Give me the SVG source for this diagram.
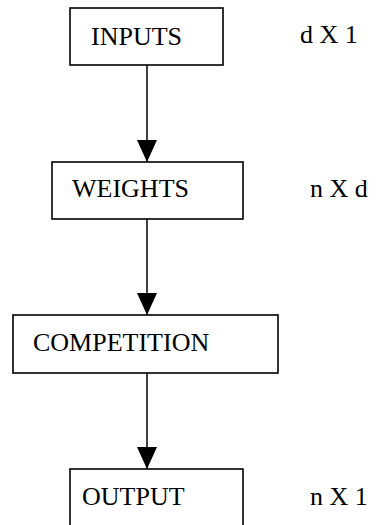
<svg xmlns="http://www.w3.org/2000/svg" width="381" height="525" viewBox="0 0 381 525">
  <style>
    .box { fill: #ffffff; stroke: #000000; stroke-width: 1.6; }
    .label { font-family: "Liberation Serif", "Times New Roman", serif; font-size: 26px; fill: #000000; }
    .conn { stroke: #000000; stroke-width: 1.5; fill: none; marker-end: url(#arrow); }
  </style>
  <defs>
    <marker id="arrow" viewBox="0 0 22 20" refX="22" refY="10" markerWidth="22" markerHeight="20" markerUnits="userSpaceOnUse" orient="auto">
      <path d="M0,0 L22,10 L0,20 Z" fill="#000000"/>
    </marker>
  </defs>
  <rect width="381" height="525" fill="#ffffff"/>

  <!-- flow connectors -->
  <g id="connectors">
    <line class="conn" x1="147" y1="65" x2="147" y2="162"/>
    <line class="conn" x1="147" y1="219" x2="147" y2="315"/>
    <line class="conn" x1="147" y1="373" x2="147" y2="469"/>
  </g>

  <g id="inputs">
    <rect class="box" x="70" y="8" width="153" height="57"/>
    <text class="label" x="91" y="45">INPUTS</text>
  </g>
  <g id="inputs-dim">
    <text class="label" x="300" y="43">d X 1</text>
  </g>

  <g id="weights">
    <rect class="box" x="52" y="162" width="191" height="57"/>
    <text class="label" x="72" y="197">WEIGHTS</text>
  </g>
  <g id="weights-dim">
    <text class="label" x="310" y="197">n X d</text>
  </g>

  <g id="competition">
    <rect class="box" x="13" y="315" width="265" height="58"/>
    <text class="label" x="33" y="351">COMPETITION</text>
  </g>

  <g id="output">
    <rect class="box" x="70" y="469" width="173" height="80"/>
    <text class="label" x="82" y="505">OUTPUT</text>
  </g>
  <g id="output-dim">
    <text class="label" x="310" y="505">n X 1</text>
  </g>
</svg>
